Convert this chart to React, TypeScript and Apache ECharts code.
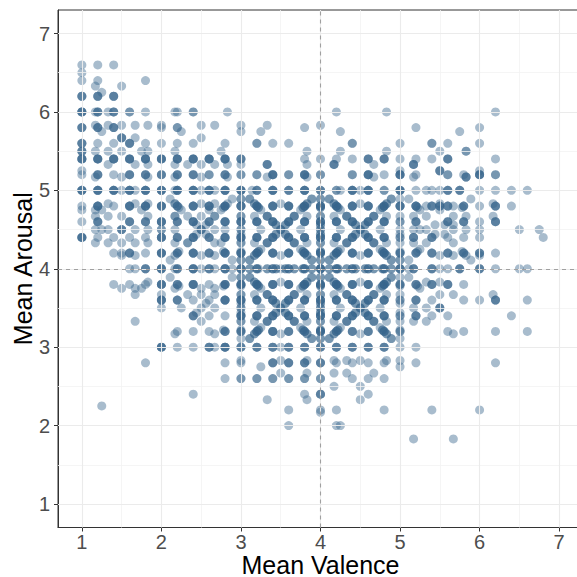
import { useEffect, useRef } from "react";
import * as echarts from "echarts";

// Each row: [mean arousal, [[mean valence, number of words at that spot], ...]]
type Row = [number, [number, number][]];

const rowsAbove5: Row[] = [
  [6.6, [[1, 1], [1.2, 1], [1.4, 1]]],
  [6.5, [[1, 1]]],
  [6.4, [[1, 1], [1.2, 1], [1.8, 1]]],
  [6.33, [[1.17, 1], [1.5, 1]]],
  [6.25, [[1.25, 1]]],
  [6.2, [[1, 3], [1.2, 3], [1.4, 3]]],
  [6.0, [[1, 4], [1.17, 1], [1.2, 3], [1.33, 1], [1.4, 3], [1.6, 2], [1.8, 1], [2.17, 1], [2.2, 1], [2.4, 2], [2.83, 1], [4.2, 1], [4.83, 1], [6.2, 1]]],
  [5.83, [[1.17, 1], [1.33, 1], [1.5, 1], [1.67, 1], [1.83, 1], [2, 1], [2.5, 1], [2.67, 1], [3, 1], [3.33, 1], [4, 1]]],
  [5.8, [[1, 3], [1.2, 3], [1.4, 3], [2, 1], [2.2, 2], [3.8, 1], [5.2, 1], [6, 1]]],
  [5.75, [[1.25, 1], [2.25, 1], [3, 1], [3.25, 1], [4.25, 1], [5.75, 1]]],
  [5.67, [[1.5, 3], [1.67, 1], [2.5, 1]]],
  [5.6, [[1, 3], [1.2, 1], [1.4, 1], [1.6, 3], [1.8, 1], [2, 1], [2.2, 1], [2.4, 1], [2.8, 1], [3.2, 2], [3.4, 1], [3.6, 1], [4.4, 2], [5, 1], [5.4, 2], [5.6, 1], [6, 1]]],
  [5.5, [[1, 3], [1.17, 1], [1.33, 1], [1.5, 1], [1.75, 1], [1.83, 1], [2.17, 1], [2.75, 1], [3.83, 1], [4.25, 1], [4.83, 1], [5.5, 1], [5.83, 2]]],
  [5.4, [[1, 4], [1.2, 4], [1.4, 4], [1.6, 4], [1.8, 4], [2, 4], [2.2, 4], [2.4, 4], [2.6, 4], [2.8, 4], [3, 3], [3.8, 1], [4, 1], [4.2, 1], [4.4, 1], [4.6, 3], [4.8, 3], [5, 1], [5.2, 1], [5.4, 1], [5.6, 3], [6.2, 1]]],
  [5.33, [[1.33, 1], [1.67, 1], [1.83, 1], [2.17, 1], [2.33, 1], [2.5, 1], [2.67, 1], [2.83, 1], [3, 1], [3.33, 3], [3.83, 1], [4.17, 3], [4.67, 1], [5.17, 3]]],
  [5.25, [[1, 1], [5, 1], [5.5, 3], [6, 1]]],
  [5.2, [[1, 1], [1.2, 3], [1.4, 1], [1.6, 3], [1.8, 3], [2, 3], [2.2, 3], [2.4, 3], [2.6, 2], [2.8, 3], [3, 2], [3.2, 2], [3.4, 4], [3.6, 2], [3.8, 4], [4, 2], [4.4, 2], [4.6, 4], [4.8, 1], [5, 4], [5.2, 1], [5.6, 2], [5.8, 1], [6, 4], [6.2, 2]]],
  [5.17, [[1.17, 1], [1.5, 1], [1.83, 1], [2.17, 1], [2.5, 1], [2.83, 1], [3.33, 1], [3.83, 1], [4.67, 1], [5.17, 1], [5.83, 3]]],
];

const rowsBand4to5: Row[] = [
  [5.0, [[1, 4], [1.2, 4], [1.4, 4], [1.5, 1], [1.6, 4], [1.67, 1], [1.8, 4], [2, 4], [2.17, 1], [2.2, 4], [2.4, 4], [2.5, 1], [2.6, 4], [2.67, 1], [2.8, 4], [3, 4], [3.14, 1], [3.2, 3], [3.4, 4], [3.6, 3], [3.8, 4], [4, 3], [4.2, 2], [4.25, 1], [4.4, 4], [4.5, 1], [4.6, 4], [4.8, 2], [5, 4], [5.2, 1], [5.33, 1], [5.4, 1], [5.5, 1], [5.6, 3], [5.75, 3], [6, 1], [6.2, 1], [6.4, 1], [6.6, 1]]],
  [4.89, [[2.11, 1], [2.89, 1], [3, 2], [3.11, 2], [3.89, 2], [4, 2], [4.11, 2], [4.89, 2], [5, 1], [5.11, 1], [5.89, 1]]],
  [4.83, [[1.33, 1], [1.67, 1], [1.83, 1], [2.17, 2], [2.5, 1], [2.67, 1], [2.83, 1], [3.17, 2], [3.5, 1], [3.83, 2], [4.17, 2], [4.5, 1], [4.83, 2], [5.5, 1], [6.17, 1]]],
  [4.8, [[1, 1], [1.2, 4], [1.4, 1], [1.6, 4], [1.8, 4], [2, 4], [2.2, 3], [2.4, 4], [2.6, 4], [2.8, 4], [3, 4], [3.2, 4], [3.4, 4], [3.6, 4], [3.8, 4], [4, 4], [4.2, 4], [4.4, 4], [4.6, 4], [4.8, 4], [5, 4], [5.2, 4], [5.33, 1], [5.4, 3], [5.5, 3], [5.6, 3], [5.67, 1], [5.8, 3], [6, 1], [6.2, 3], [6.4, 1]]],
  [4.78, [[2.22, 1], [2.78, 1], [3.22, 2], [3.78, 2], [4, 2], [4.22, 2], [4.78, 2], [5.22, 1], [5.78, 1]]],
  [4.75, [[1, 1], [1.17, 1], [1.25, 1], [1.75, 1], [2.25, 1], [2.6, 1], [2.75, 1], [3.25, 1], [3.75, 1], [4.25, 1], [4.75, 1], [5.25, 1], [5.5, 1]]],
  [4.67, [[1.17, 1], [1.33, 1], [1.5, 1], [1.83, 1], [2.17, 2], [2.33, 1], [2.5, 1], [2.67, 2], [3, 2], [3.17, 1], [3.33, 3], [3.67, 3], [3.83, 1], [4, 2], [4.17, 1], [4.33, 3], [4.67, 3], [4.83, 1], [5, 1], [5.17, 1], [5.33, 1], [5.67, 1], [5.83, 1], [6.17, 1]]],
  [4.6, [[1, 1], [1.2, 3], [1.6, 3], [1.8, 3], [2, 4], [2.2, 3], [2.4, 4], [2.6, 3], [2.8, 4], [3, 4], [3.2, 4], [3.4, 4], [3.6, 4], [3.8, 4], [4, 4], [4.2, 4], [4.4, 4], [4.6, 4], [4.8, 4], [5, 2], [5.2, 3], [5.6, 3], [5.8, 3], [6, 1], [6.2, 3]]],
  [4.56, [[2.44, 1], [2.56, 1], [3.44, 2], [3.56, 2], [4, 2], [4.44, 2], [4.56, 2], [5.44, 1], [5.56, 1], [5.67, 1]]],
  [4.5, [[1.17, 1], [1.25, 1], [1.33, 1], [1.5, 3], [1.67, 1], [1.83, 1], [2, 2], [2.17, 1], [2.5, 3], [2.67, 1], [2.8, 1], [3, 2], [3.25, 1], [3.5, 3], [3.75, 1], [4, 2], [4.25, 1], [4.5, 3], [4.75, 1], [5, 1], [5.17, 1], [5.25, 1], [5.33, 1], [5.67, 1], [5.83, 1], [6, 1], [6.5, 1], [6.75, 1]]],
  [4.44, [[2.44, 1], [2.56, 1], [3, 1], [3.44, 2], [3.56, 2], [4, 2], [4.44, 2], [4.56, 2], [5, 1], [5.44, 1], [5.56, 1]]],
  [4.4, [[1, 4], [1.2, 1], [1.4, 1], [1.6, 1], [1.8, 1], [2, 4], [2.2, 3], [2.4, 4], [2.6, 3], [2.8, 4], [3, 4], [3.2, 4], [3.4, 4], [3.6, 4], [3.8, 4], [4, 4], [4.2, 4], [4.4, 4], [4.6, 4], [4.8, 4], [5, 2], [5.17, 3], [5.4, 3], [5.6, 1], [5.8, 1], [6, 1], [6.8, 1]]],
  [4.33, [[1.17, 1], [1.33, 1], [1.5, 1], [1.67, 1], [1.83, 1], [2.17, 1], [2.33, 2], [2.67, 1], [2.75, 1], [3, 2], [3.17, 1], [3.33, 3], [3.67, 3], [3.83, 1], [4, 2], [4.17, 1], [4.33, 3], [4.67, 3], [4.83, 1], [5, 1], [5.17, 1], [5.33, 1], [5.67, 1]]],
  [4.25, [[3.25, 1], [3.75, 1], [4.25, 1], [4.75, 1], [5.25, 1]]],
  [4.22, [[2.22, 1], [2.78, 1], [3, 1], [3.22, 2], [3.78, 2], [4, 2], [4.22, 2], [4.78, 2], [5, 1], [5.22, 1], [5.78, 1]]],
  [4.2, [[1.4, 1], [1.5, 1], [1.6, 3], [1.8, 1], [2, 4], [2.2, 3], [2.4, 4], [2.6, 3], [2.8, 4], [3, 4], [3.2, 4], [3.4, 4], [3.6, 4], [3.8, 4], [4, 4], [4.2, 4], [4.4, 4], [4.6, 4], [4.8, 4], [5, 3], [5.2, 3], [5.4, 3], [5.6, 3], [5.8, 3], [6, 3], [6.2, 1]]],
  [4.17, [[1.5, 1], [1.67, 1], [2.17, 1], [2.5, 1], [2.67, 1], [3.17, 2], [3.5, 1], [3.83, 2], [4.17, 2], [4.5, 1], [4.83, 2], [5.5, 1], [5.67, 1], [5.83, 1], [6, 1]]],
  [4.11, [[2.11, 1], [2.89, 1], [3, 2], [3.11, 2], [3.89, 2], [4, 2], [4.11, 2], [4.89, 2], [5, 2], [5.11, 1], [5.89, 1]]],
];

const rowsBand3to4: Row[] = [
  [4.0, [[1.6, 1], [1.67, 1], [1.8, 3], [2, 4], [2.17, 1], [2.2, 3], [2.4, 4], [2.5, 1], [2.6, 3], [2.67, 1], [2.8, 4], [2.89, 1], [3, 4], [3.11, 2], [3.2, 3], [3.22, 1], [3.33, 2], [3.4, 3], [3.44, 2], [3.5, 1], [3.56, 2], [3.6, 3], [3.67, 2], [3.78, 2], [3.8, 3], [3.89, 2], [4, 5], [4.11, 2], [4.2, 3], [4.22, 2], [4.33, 2], [4.4, 3], [4.44, 2], [4.56, 2], [4.6, 3], [4.67, 2], [4.78, 2], [4.8, 3], [4.89, 2], [5, 4], [5.11, 1], [5.17, 3], [5.4, 3], [5.5, 1], [5.6, 1], [5.75, 3], [6, 3], [6.2, 1], [6.5, 1], [6.6, 1]]],
  [3.89, [[2.11, 1], [2.89, 1], [3, 2], [3.11, 2], [3.89, 2], [4, 2], [4.11, 2], [4.89, 2], [5, 1], [5.11, 1]]],
  [3.83, [[1.83, 1], [3.17, 2], [3.5, 1], [3.83, 2], [4.17, 2], [4.5, 1], [4.83, 2], [5.33, 1], [5.5, 1]]],
  [3.8, [[1.4, 1], [1.6, 1], [1.8, 1], [2, 4], [2.2, 3], [2.4, 4], [2.6, 1], [2.8, 4], [3, 4], [3.2, 4], [3.4, 4], [3.6, 4], [3.8, 4], [4, 4], [4.2, 4], [4.4, 4], [4.6, 4], [4.8, 4], [5, 3], [5.2, 3], [5.4, 3], [5.6, 3], [5.8, 1]]],
  [3.78, [[2.22, 1], [2.78, 1], [3, 1], [3.22, 2], [3.78, 2], [4, 2], [4.22, 2], [4.78, 2], [5, 1], [5.22, 1]]],
  [3.75, [[1.5, 1], [1.67, 1], [1.75, 1], [2.17, 1], [2.5, 1], [2.67, 1], [3.25, 1], [3.75, 1], [4.25, 1], [4.75, 1], [5.25, 1]]],
  [3.67, [[1.67, 1], [2, 1], [2.33, 1], [2.5, 1], [2.67, 1], [3, 2], [3.17, 1], [3.33, 3], [3.67, 3], [3.83, 1], [4, 2], [4.17, 1], [4.33, 3], [4.67, 3], [4.83, 1], [5, 1], [5.5, 1], [5.67, 1], [6.17, 1]]],
  [3.6, [[2, 4], [2.2, 3], [2.4, 1], [2.6, 1], [2.8, 4], [3, 4], [3.2, 4], [3.4, 4], [3.6, 4], [3.8, 4], [4, 4], [4.2, 4], [4.4, 4], [4.6, 4], [4.8, 4], [5, 2], [5.2, 3], [5.4, 1], [5.8, 1], [6, 1], [6.2, 3], [6.6, 1]]],
  [3.56, [[2.56, 1], [3, 1], [3.44, 2], [3.56, 2], [4, 2], [4.44, 2], [4.56, 2], [5, 1]]],
  [3.5, [[2, 1], [2.25, 1], [2.5, 1], [2.67, 1], [3, 2], [3.25, 1], [3.5, 3], [3.75, 1], [4, 2], [4.25, 1], [4.5, 3], [4.75, 1], [5.17, 1], [5.33, 1], [5.5, 3]]],
  [3.44, [[2.44, 1], [3, 1], [3.44, 2], [3.56, 2], [4, 2], [4.44, 2], [4.56, 2], [5, 1]]],
  [3.4, [[2.4, 3], [2.6, 1], [2.8, 1], [3, 4], [3.2, 4], [3.4, 4], [3.6, 4], [3.8, 4], [4, 4], [4.2, 4], [4.4, 4], [4.6, 4], [4.8, 4], [5, 2], [5.2, 3], [5.4, 1], [5.6, 1], [6.4, 1]]],
  [3.33, [[1.67, 1], [2.5, 1], [3, 2], [3.17, 1], [3.33, 3], [3.67, 3], [3.83, 1], [4, 2], [4.17, 1], [4.33, 3], [4.67, 3], [4.83, 1], [5, 1], [5.17, 1], [5.33, 1]]],
  [3.25, [[3.25, 1], [3.75, 1], [4.25, 1], [4.75, 1]]],
  [3.22, [[2.78, 1], [3, 1], [3.22, 2], [3.78, 2], [4, 2], [4.22, 2], [4.78, 2], [5, 1]]],
  [3.2, [[2.2, 1], [2.4, 1], [2.6, 1], [2.8, 3], [3, 3], [3.2, 3], [3.4, 4], [3.6, 3], [3.8, 3], [4, 4], [4.2, 3], [4.4, 3], [4.6, 3], [4.8, 3], [5, 2], [5.6, 1], [5.8, 1], [6.2, 1], [6.6, 1]]],
  [3.17, [[2.17, 1], [2.67, 1], [3.17, 2], [3.5, 1], [3.83, 2], [4.17, 2], [4.5, 1], [4.83, 2], [5.67, 1]]],
  [3.11, [[3, 1], [3.11, 2], [3.89, 2], [4, 2], [4.11, 2], [4.89, 2], [5, 1]]],
];

const rowsBelow3: Row[] = [
  [3.0, [[2, 4], [2.2, 1], [2.4, 1], [2.6, 3], [2.67, 1], [2.8, 4], [3, 3], [3.2, 3], [3.4, 3], [3.5, 1], [3.6, 3], [3.8, 3], [4, 3], [4.2, 3], [4.4, 3], [4.6, 3], [4.8, 3], [5, 1], [5.2, 1]]],
  [2.83, [[3, 1], [3.5, 1], [3.83, 1], [4.17, 1], [4.33, 1], [4.5, 1], [4.83, 1], [5, 1]]],
  [2.8, [[1.8, 1], [2.8, 1], [3, 1], [3.4, 3], [3.6, 3], [3.8, 3], [4, 3], [4.2, 1], [4.4, 1], [4.6, 1], [4.8, 1], [5.2, 1], [6.2, 1]]],
  [2.75, [[3.25, 1], [5, 1]]],
  [2.67, [[3.5, 1], [3.83, 1], [4.17, 1], [4.33, 1], [4.67, 1]]],
  [2.6, [[2.8, 1], [3, 2], [3.2, 2], [3.4, 2], [3.6, 2], [3.8, 2], [4, 2], [4.4, 1], [4.6, 1], [4.8, 1]]],
  [2.5, [[4.17, 1], [4.5, 1]]],
  [2.4, [[2.4, 1], [3.8, 1], [4, 3], [4.6, 1]]],
  [2.33, [[3.33, 1], [3.83, 1], [4.5, 1]]],
  [2.25, [[1.25, 1]]],
  [2.2, [[3.6, 1], [4, 1], [4.2, 1], [4.8, 1], [5.4, 1], [6, 1]]],
  [2.17, [[4, 1]]],
  [2.0, [[3.6, 1], [4.2, 1], [4.25, 1]]],
  [1.83, [[5.17, 1], [5.67, 1]]],
];

const valenceTicks = [1, 2, 3, 4, 5, 6, 7];
const arousalTicks = [1, 2, 3, 4, 5, 6, 7];
const valenceMinor = [1.5, 2.5, 3.5, 4.5, 5.5, 6.5];
const arousalMinor = [1.5, 2.5, 3.5, 4.5, 5.5, 6.5];
const valenceReference = 4;
const arousalReference = 4;

const POINT_COLOR = "#36648B";
const FONT = "'Liberation Sans', Arial, Helvetica, sans-serif";

export default function App() {
  const ref = useRef<HTMLDivElement>(null);

  useEffect(() => {
    if (!ref.current) return;
    const chart = echarts.init(ref.current, null, { renderer: "svg" });

    const rows = [...rowsAbove5, ...rowsBand4to5, ...rowsBand3to4, ...rowsBelow3];
    const points: number[][] = [];
    rows.forEach(([arousal, cells]) => {
      cells.forEach(([valence, n]) => {
        for (let i = 0; i < n; i++) points.push([valence, arousal]);
      });
    });

    const major = { color: "#EBEBEB", width: 1.1, type: "solid" as const };
    const minor = { color: "#F2F2F2", width: 0.8, type: "solid" as const };

    const gridLines = [
      ...valenceMinor.map((v) => ({ xAxis: v, lineStyle: minor })),
      ...arousalMinor.map((v) => ({ yAxis: v, lineStyle: minor })),
      ...valenceTicks.map((v) => ({ xAxis: v, lineStyle: major })),
      ...arousalTicks.map((v) => ({ yAxis: v, lineStyle: major })),
    ];

    const axisCommon = {
      type: "value" as const,
      min: 0.7,
      max: 7.3,
      splitLine: { show: false },
      minorSplitLine: { show: false },
      axisLine: { show: true, onZero: false, lineStyle: { color: "#333333", width: 1 } },
      nameLocation: "middle" as const,
      nameMoveOverlap: false,
      nameTextStyle: { color: "#000000", fontSize: 25, lineHeight: 24, fontFamily: FONT },
    };

    chart.setOption({
      animation: false,
      textStyle: { fontFamily: FONT },
      grid: {
        left: 58,
        right: -6,
        top: 10,
        bottom: 49.5,
        containLabel: false,
        outerBoundsMode: "none",
        show: true,
        backgroundColor: "#FFFFFF",
        borderColor: "#333333",
        borderWidth: 1,
      },
      xAxis: {
        ...axisCommon,
        name: "Mean Valence",
        nameGap: 25,
        axisTick: { show: true, length: 4, customValues: valenceTicks, lineStyle: { color: "#333333", width: 1 } },
        axisLabel: { customValues: valenceTicks, color: "#4D4D4D", fontSize: 20, lineHeight: 20, margin: 4, fontFamily: FONT },
      },
      yAxis: {
        ...axisCommon,
        name: "Mean Arousal",
        nameGap: 23,
        axisTick: { show: true, length: 4, customValues: arousalTicks, lineStyle: { color: "#333333", width: 1 } },
        axisLabel: { customValues: arousalTicks, color: "#4D4D4D", fontSize: 20, margin: 8, fontFamily: FONT },
      },
      series: [
        {
          type: "scatter",
          data: [],
          silent: true,
          z: 1,
          markLine: {
            silent: true,
            animation: false,
            symbol: ["none", "none"],
            label: { show: false },
            emphasis: { disabled: true },
            data: gridLines,
          },
        },
        {
          type: "scatter",
          data: points,
          symbol: "circle",
          symbolSize: 9,
          silent: true,
          z: 2,
          itemStyle: { color: POINT_COLOR, opacity: 0.43 },
        },
        {
          type: "scatter",
          data: [],
          silent: true,
          z: 3,
          markLine: {
            silent: true,
            animation: false,
            symbol: ["none", "none"],
            label: { show: false },
            emphasis: { disabled: true },
            lineStyle: { color: "rgba(120,120,120,0.65)", width: 1.1, type: [4, 4] },
            data: [{ xAxis: valenceReference }, { yAxis: arousalReference }],
          },
        },
      ],
    });

    return () => chart.dispose();
  }, []);

  return (
    <div
      ref={ref}
      style={{ position: "fixed", left: 0, top: 0, width: 577, height: 577, background: "#FFFFFF" }}
    />
  );
}
